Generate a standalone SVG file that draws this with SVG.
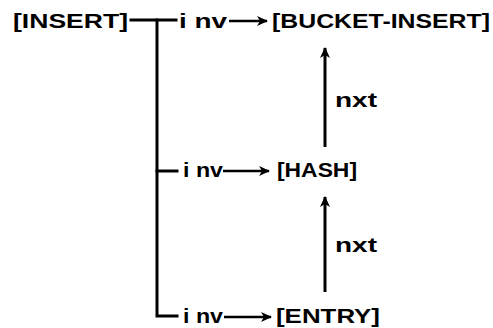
<svg xmlns="http://www.w3.org/2000/svg" width="493" height="328" viewBox="0 0 493 328">
<style>
  .t { font-family: "Liberation Sans", Arial, sans-serif; font-weight: bold; font-size: 21px; fill: #000; }
  .l { font-family: "Liberation Sans", Arial, sans-serif; font-weight: bold; font-size: 21px; fill: #000; }
  .ln { stroke: #000; stroke-width: 3; fill: none; stroke-linecap: square; }
  .ar { stroke: #000; stroke-width: 2.5; fill: none; marker-end: url(#ah); }
</style>
<defs>
  <marker id="ah" markerUnits="userSpaceOnUse" markerWidth="12" markerHeight="12" viewBox="0 0 12 12" refX="10" refY="6" orient="auto">
    <path d="M0,1 L11,6 L0,11 L3,6 Z" fill="#000"/>
  </marker>
</defs>
<rect width="493" height="328" fill="#fff"/>
<g id="node-insert"><text class="t" x="13" y="28" textLength="115" lengthAdjust="spacingAndGlyphs">[INSERT]</text></g>
<g id="node-bucket-insert"><text class="t" x="272" y="28" textLength="218" lengthAdjust="spacingAndGlyphs">[BUCKET-INSERT]</text></g>
<g id="node-hash"><text class="t" x="277" y="177" textLength="80" lengthAdjust="spacingAndGlyphs">[HASH]</text></g>
<g id="node-entry"><text class="t" x="276" y="323" textLength="104" lengthAdjust="spacingAndGlyphs">[ENTRY]</text></g>
<g id="connectors">
  <path class="ln" d="M131,20 L176,20"/>
  <path class="ln" d="M157,20 L157,316 L177,316"/>
  <path class="ln" d="M157,171 L177,171"/>
  <text class="l" x="179" y="28" textLength="48" lengthAdjust="spacingAndGlyphs">i nv</text>
  <path class="ar" d="M229,21 L267,21"/>
  <text class="l" x="183" y="177" textLength="40" lengthAdjust="spacingAndGlyphs">i nv</text>
  <path class="ar" d="M223,171 L269,171"/>
  <text class="l" x="183" y="323" textLength="40" lengthAdjust="spacingAndGlyphs">i nv</text>
  <path class="ar" d="M224,317 L271,317"/>
  <path class="ar" style="stroke-width:3" d="M325,147 L325,48"/>
  <text class="l" x="335" y="107" textLength="42" lengthAdjust="spacingAndGlyphs">nxt</text>
  <path class="ar" style="stroke-width:3" d="M325,292 L325,197"/>
  <text class="l" x="335" y="252" textLength="42" lengthAdjust="spacingAndGlyphs">nxt</text>
</g>
</svg>
